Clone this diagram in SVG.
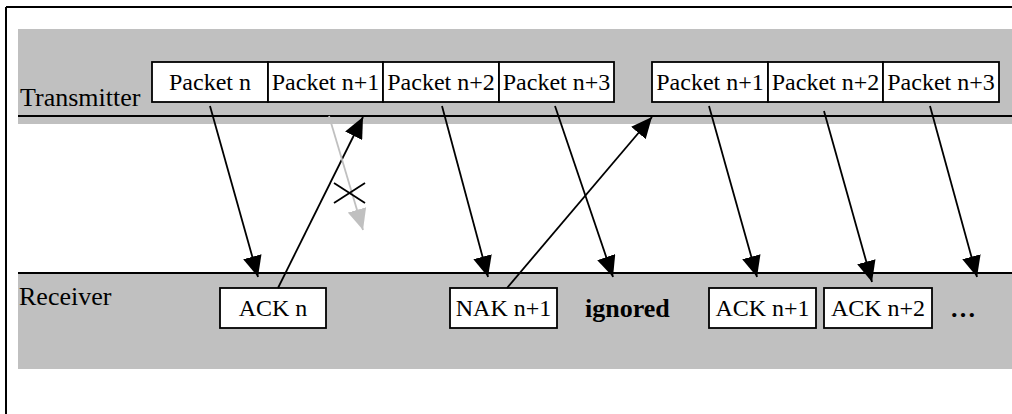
<svg xmlns="http://www.w3.org/2000/svg" width="1012" height="414" viewBox="0 0 1012 414">
<style>
.band{fill:#c0c0c0;stroke:none}
.rule{stroke:#000;stroke-width:2;fill:none}
.box{fill:#fff;stroke:#000;stroke-width:1.8}
.bt{font-family:"Liberation Serif","Times New Roman",serif;font-size:24px;fill:#000;text-anchor:middle}
.lbl{font-family:"Liberation Serif","Times New Roman",serif;font-size:26px;fill:#000}
.bold{font-family:"Liberation Serif","Times New Roman",serif;font-size:26px;font-weight:bold;fill:#000}
.arr{stroke:#000;stroke-width:1.8;fill:none;marker-end:url(#ah)}
.garr{stroke:#c0c0c0;stroke-width:1.8;fill:none;marker-end:url(#gah)}
.x{stroke:#000;stroke-width:1.8}
</style>
<defs>
<marker id="ah" viewBox="0 0 21 19" refX="21" refY="9.5" markerWidth="21" markerHeight="19" orient="auto" markerUnits="userSpaceOnUse"><path d="M0,0 L21,9.5 L0,19 z" fill="#000"/></marker>
<marker id="gah" viewBox="0 0 21 19" refX="21" refY="9.5" markerWidth="21" markerHeight="19" orient="auto" markerUnits="userSpaceOnUse"><path d="M0,0 L21,9.5 L0,19 z" fill="#c0c0c0"/></marker>
</defs>
<rect width="1012" height="414" fill="#fff"/>
<g id="frame">
<line x1="6" y1="7" x2="1012" y2="7" stroke="#000" stroke-width="2"/>
<line x1="6" y1="7" x2="6" y2="414" stroke="#000" stroke-width="2"/>
</g>
<g id="transmitter">
<rect class="band" x="18" y="29" width="994" height="95"/>
<line class="rule" x1="18" y1="116" x2="1012" y2="116"/>
<text class="lbl" x="20" y="106">Transmitter</text>
</g>
<g id="receiver">
<rect class="band" x="18" y="273" width="994" height="96"/>
<line class="rule" x1="18" y1="273" x2="1012" y2="273"/>
<text class="lbl" x="19" y="305">Receiver</text>
</g>
<g id="pkt-n"><rect class="box" x="152" y="62" width="116" height="40"/><text class="bt" x="210" y="90">Packet n</text></g>
<g id="pkt-n1"><rect class="box" x="268" y="62" width="115" height="40"/><text class="bt" x="325.5" y="90">Packet n+1</text></g>
<g id="pkt-n2"><rect class="box" x="383" y="62" width="116" height="40"/><text class="bt" x="441" y="90">Packet n+2</text></g>
<g id="pkt-n3"><rect class="box" x="499" y="62" width="115" height="40"/><text class="bt" x="556.5" y="90">Packet n+3</text></g>
<g id="pkt-n1-re"><rect class="box" x="652" y="62" width="116" height="40"/><text class="bt" x="710" y="90">Packet n+1</text></g>
<g id="pkt-n2-re"><rect class="box" x="768" y="62" width="115" height="40"/><text class="bt" x="825.5" y="90">Packet n+2</text></g>
<g id="pkt-n3-re"><rect class="box" x="883" y="62" width="116" height="40"/><text class="bt" x="941" y="90">Packet n+3</text></g>
<g id="ack-n"><rect class="box" x="220" y="288" width="106" height="40"/><text class="bt" x="273" y="316">ACK n</text></g>
<g id="nak-n1"><rect class="box" x="450" y="288" width="107" height="40"/><text class="bt" x="503.5" y="316">NAK n+1</text></g>
<g id="ignored"><text class="bold" x="585" y="317">ignored</text></g>
<g id="ack-n1"><rect class="box" x="709" y="288" width="107" height="40"/><text class="bt" x="762.5" y="316">ACK n+1</text></g>
<g id="ack-n2"><rect class="box" x="824" y="288" width="108" height="40"/><text class="bt" x="878" y="316">ACK n+2</text></g>
<g id="more"><text class="bold" x="950" y="317" font-size="22px">…</text></g>
<g id="connectors">
<line class="arr" x1="210" y1="106" x2="258" y2="277"/>
<line class="arr" x1="278" y1="288" x2="363" y2="117"/>
<line class="garr" x1="329" y1="116" x2="363" y2="230"/>
<line class="x" x1="334" y1="183" x2="365" y2="203"/>
<line class="x" x1="334" y1="203" x2="365" y2="183"/>
<line class="arr" x1="442" y1="106" x2="488" y2="277"/>
<line class="arr" x1="555" y1="106" x2="613" y2="277"/>
<line class="arr" x1="507" y1="288" x2="652" y2="117"/>
<line class="arr" x1="709" y1="106" x2="757" y2="277"/>
<line class="arr" x1="824" y1="111" x2="872" y2="282"/>
<line class="arr" x1="930" y1="106" x2="977" y2="277"/>
</g>
</svg>
